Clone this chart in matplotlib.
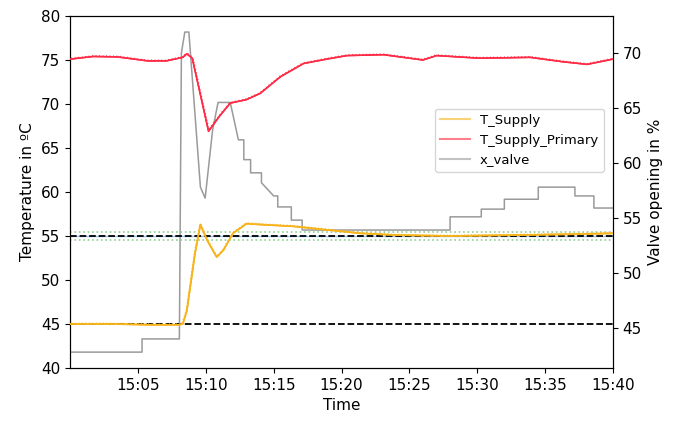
import matplotlib
matplotlib.use('Agg')
import matplotlib.pyplot as plt
import matplotlib.patheffects as pe
from matplotlib.lines import Line2D
import numpy as np

# time in minutes after 15:00
t_supply = [0, 3, 6, 8.0, 8.3, 8.6, 9.2, 9.6, 10.1, 10.8, 11.3, 12.0, 13.0, 14.0,
            16.4, 18.9, 21.4, 24, 28, 33, 37, 40]
supply = [45.0, 45.0, 44.9, 44.9, 45.0, 46.5, 53.0, 56.3, 54.5, 52.6, 53.4, 55.3, 56.4, 56.3,
          56.1, 55.7, 55.3, 55.1, 55.0, 55.1, 55.2, 55.3]

t_primary = [0, 1.7, 3.5, 5.7, 7.1, 8.3, 8.6, 9.0, 10.2, 11.0, 11.8, 13.0, 14.0,
             15.5, 17.2, 18.9, 20.4, 23.1, 26.0, 27.0, 30.2, 33.9, 36.3, 38.1, 40]
primary = [75.1, 75.4, 75.35, 74.9, 74.9, 75.3, 75.7, 75.2, 66.9, 68.6, 70.1, 70.5, 71.2,
           73.1, 74.6, 75.1, 75.5, 75.6, 75.0, 75.5, 75.2, 75.3, 74.8, 74.5, 75.1]

t_valve = [0, 5.3, 5.3, 8.05, 8.2, 8.45, 8.75, 9.6, 9.95, 10.5, 10.9, 11.8, 12.4, 12.8, 12.8,
           13.3, 13.3, 14.1, 14.1, 15.0, 15.3, 15.3, 16.3, 16.3, 17.1, 17.1, 28.0, 28.0,
           30.3, 30.3, 32.0, 32.0, 34.5, 34.5, 37.2, 37.2, 38.6, 38.6, 40]
valve = [42.8, 42.8, 44.0, 44.0, 70.0, 71.9, 71.9, 57.8, 56.8, 63.0, 65.5, 65.5, 62.1, 62.1, 60.3,
         60.3, 59.1, 59.1, 58.2, 57.0, 57.0, 56.0, 56.0, 54.8, 54.8, 53.9, 53.9, 55.1,
         55.1, 55.8, 55.8, 56.7, 56.7, 57.8, 57.8, 57.0, 57.0, 55.9, 55.9]

setpoints = [45, 55]
band = [54.5, 55.5]

tick_pos = [5, 10, 15, 20, 25, 30, 35, 40]
tick_labels = ['15:05', '15:10', '15:15', '15:20', '15:25', '15:30', '15:35', '15:40']

c_supply = '#f7b41c'
c_primary = '#ff2a45'
c_valve = '#9a9a9a'

fig = plt.figure(figsize=(6.81, 4.21), dpi=100)
ax = fig.add_axes([0.103, 0.126, 0.797, 0.836])
ax2 = ax.twinx()

# tolerance band and setpoints
for b in band:
    ax.axhline(b, color='#8fd18f', ls=':', lw=1.2, zorder=1)
ax.axhline(55, color='#9ec9ea', lw=1.0, zorder=1)
for s in setpoints:
    ax.axhline(s, color='black', ls='--', lw=1.3, zorder=3)

ripple = [pe.Normal(), pe.withTickedStroke(spacing=2.5, angle=90, length=0.3, linewidth=0.6)]
ax.plot(t_supply, supply, color=c_supply, lw=1.2, zorder=4, path_effects=ripple)
ax.plot(t_primary, primary, color=c_primary, lw=1.1, zorder=4, path_effects=ripple)
ax2.plot(t_valve, valve, color=c_valve, lw=1.1)

ax.set_zorder(ax2.get_zorder() + 1)
ax.patch.set_visible(False)

ax.set_xlim(0, 40)
ax.set_ylim(40, 80)
ax.set_yticks(np.arange(40, 81, 5))
ax2.set_ylim(41.36, 73.36)
ax2.set_yticks(np.arange(45, 71, 5))
ax.set_xticks(tick_pos)
ax.set_xticklabels(tick_labels)

ax.set_xlabel('Time', fontsize=11)
ax.set_ylabel('Temperature in ºC', fontsize=11)
ax2.set_ylabel('Valve opening in %', fontsize=11)
ax.tick_params(labelsize=11)
ax2.tick_params(labelsize=11)

handles = [Line2D([], [], color=c, lw=1.5, alpha=0.6) for c in (c_supply, c_primary, c_valve)]
ax.legend(handles, ['T_Supply', 'T_Supply_Primary', 'x_valve'],
          loc='upper right', bbox_to_anchor=(0.995, 0.755), fontsize=9.5,
          handlelength=2.2, framealpha=0.8)

fig.savefig('out.png', dpi=100)
